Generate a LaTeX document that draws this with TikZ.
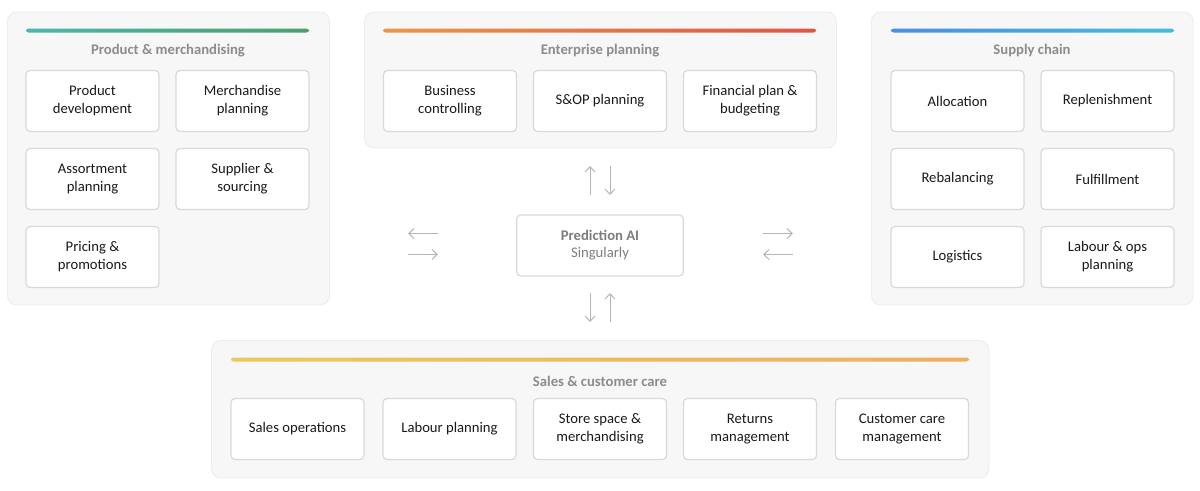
\documentclass[tikz,border=0pt]{standalone}
\usepackage{fontspec}
\setmainfont{Carlito}
\usetikzlibrary{arrows.meta}
\definecolor{panelfill}{HTML}{F7F7F7}
\definecolor{panelline}{HTML}{ECECEC}
\definecolor{boxline}{HTML}{D9D9D9}
\definecolor{titlegray}{HTML}{8C8C8C}
\definecolor{textdark}{HTML}{1A1A1A}
\definecolor{arrowgray}{HTML}{B5B5B5}
\definecolor{centergray}{HTML}{7E7E7E}
\definecolor{tealA}{HTML}{4DB6AC}
\definecolor{tealB}{HTML}{4CA06C}
\definecolor{orangeA}{HTML}{E9974A}
\definecolor{orangeB}{HTML}{DE5645}
\definecolor{blueA}{HTML}{4A8FE0}
\definecolor{blueB}{HTML}{47BCD8}
\definecolor{yellowA}{HTML}{EBC95C}
\definecolor{yellowB}{HTML}{EEAE62}
\tikzset{
  panel/.style={fill=panelfill, draw=panelline, line width=0.6pt, rounded corners=7pt},
  cardbox/.style={draw=boxline, fill=white, line width=0.9pt, rounded corners=3pt,
    minimum width=99.75pt, minimum height=45.75pt, align=center, inner sep=2pt,
    text=textdark, font=\fontsize{11}{13.5}\selectfont},
  ptitle/.style={text=titlegray, font=\bfseries\fontsize{11}{12}\selectfont, inner sep=0pt},
  centerbox/.style={draw=boxline, fill=white, line width=0.9pt, rounded corners=3pt,
    minimum width=125pt, minimum height=45.75pt, align=center, text=centergray,
    font=\fontsize{11}{12.75}\selectfont},
  flow/.style={draw=arrowgray, line width=0.75pt, -{Straight Barb[length=4pt,width=7.5pt]}}
}
\begin{document}
\begin{tikzpicture}[x=0.75pt,y=-0.75pt]
\useasboundingbox (0,0) rectangle (1200,490);

% ---------- panels ----------
\draw[panel] (7.5,12) rectangle (329.5,305);
\draw[panel] (364.5,12) rectangle (836.5,148);
\draw[panel] (871.5,12) rectangle (1193,305);
\draw[panel] (211.5,340.5) rectangle (989,478);

% ---------- gradient bars ----------
\shade[left color=tealA, right color=tealB, rounded corners=2pt] (26,28.5) rectangle (309,32.5);
\shade[left color=orangeA, right color=orangeB, rounded corners=2pt] (383,28.5) rectangle (816,32.5);
\shade[left color=blueA, right color=blueB, rounded corners=2pt] (891,28.5) rectangle (1174,32.5);
\shade[left color=yellowA, right color=yellowB, rounded corners=2pt] (231,357.5) rectangle (969,361.5);

% ---------- titles ----------
\node[ptitle] (tpm) at (168,51) {Product \& merchandising};
\node[ptitle] (tep) at (600,51) {Enterprise planning};
\node[ptitle] (tsc) at (1032,51) {Supply chain};
\node[ptitle] (tsales) at (600,381) {Sales \& customer care};

% ---------- product & merchandising ----------
\node[cardbox] (pd) at (92.5,101) {Product\\development};
\node[cardbox] (mp) at (242.5,101) {Merchandise\\planning};
\node[cardbox] (ap) at (92.5,179) {Assortment\\planning};
\node[cardbox] (ss) at (242.5,179) {Supplier \&\\sourcing};
\node[cardbox] (pp) at (92.5,257) {Pricing \&\\promotions};

% ---------- enterprise planning ----------
\node[cardbox] (bc) at (450,101) {Business\\controlling};
\node[cardbox] (sop) at (600,101) {S\&OP planning};
\node[cardbox] (fp) at (750,101) {Financial plan \&\\budgeting};

% ---------- supply chain ----------
\node[cardbox] (al) at (957.5,101) {Allocation};
\node[cardbox] (rp) at (1107.5,101) {Replenishment};
\node[cardbox] (rb) at (957.5,179) {Rebalancing};
\node[cardbox] (ff) at (1107.5,179) {Fulfillment};
\node[cardbox] (lg) at (957.5,257) {Logistics};
\node[cardbox] (lo) at (1107.5,257) {Labour \& ops\\planning};

% ---------- sales & customer care ----------
\node[cardbox] (so) at (297.5,429) {Sales operations};
\node[cardbox] (lp) at (449.5,429) {Labour planning};
\node[cardbox] (sm) at (600,429) {Store space \&\\merchandising};
\node[cardbox] (rm) at (750,429) {Returns\\management};
\node[cardbox] (cc) at (902,429) {Customer care\\management};

% ---------- center ----------
\node[centerbox] (ai) at (600,245.5) {\textbf{Prediction AI}\\Singularly};

% ---------- arrow end points ----------
\coordinate (tu1) at (590,195); \coordinate (tu2) at (590,166);
\coordinate (td1) at (610,166); \coordinate (td2) at (610,195);
\coordinate (bd1) at (590,293); \coordinate (bd2) at (590,322);
\coordinate (bu1) at (610,322); \coordinate (bu2) at (610,293);
\coordinate (ll1) at (438,233.5); \coordinate (ll2) at (408,233.5);
\coordinate (lr1) at (408,254.5); \coordinate (lr2) at (438,254.5);
\coordinate (rr1) at (763,233.5); \coordinate (rr2) at (793,233.5);
\coordinate (rl1) at (793,254.5); \coordinate (rl2) at (763,254.5);

\draw[flow] (tu1) -- (tu2);
\draw[flow] (td1) -- (td2);
\draw[flow] (bd1) -- (bd2);
\draw[flow] (bu1) -- (bu2);
\draw[flow] (ll1) -- (ll2);
\draw[flow] (lr1) -- (lr2);
\draw[flow] (rr1) -- (rr2);
\draw[flow] (rl1) -- (rl2);
\end{tikzpicture}
\end{document}
